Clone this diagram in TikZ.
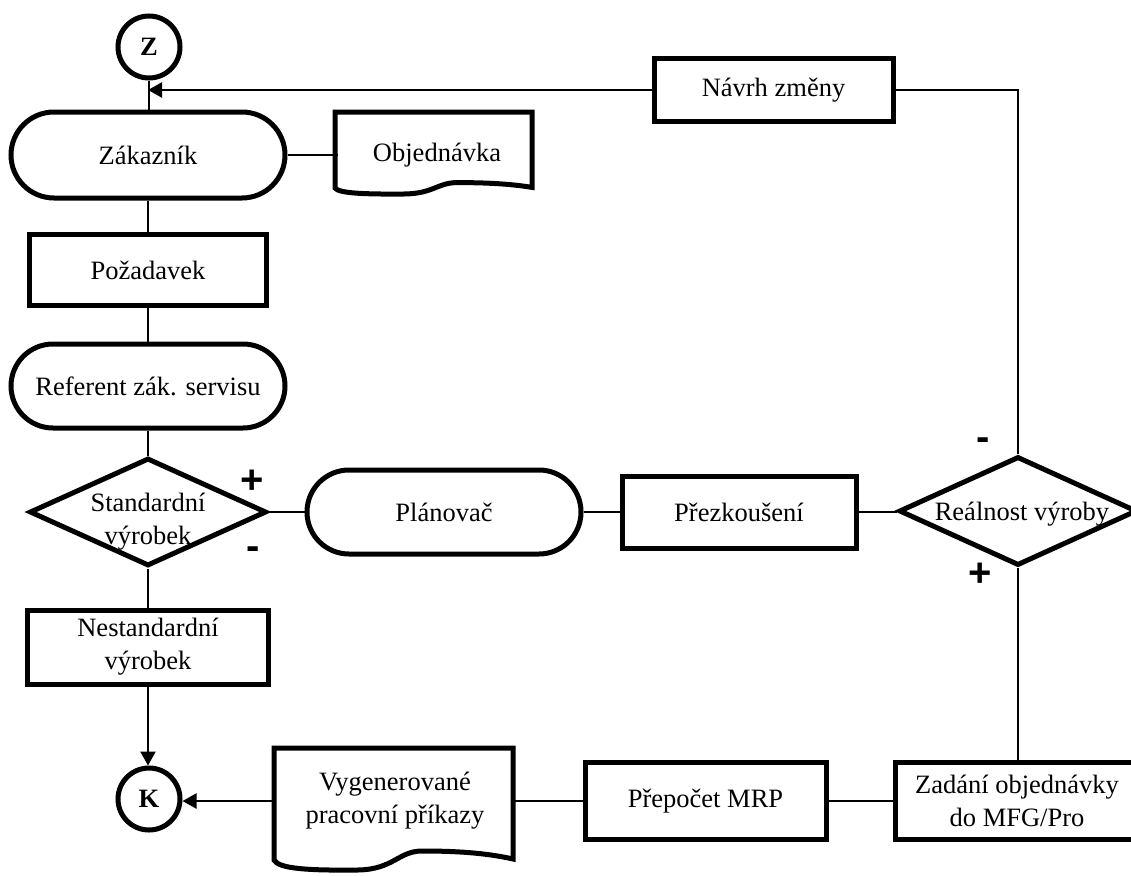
\documentclass[tikz,border=0pt]{standalone}
\usepackage{fontspec}
\setmainfont{Liberation Serif}
\newfontfamily\signfont{Liberation Sans}
\usetikzlibrary{shapes.misc,shapes.geometric,arrows.meta}
\newcommand\txtfont{\fontsize{26.5}{33}\selectfont}
\newcommand\docshape[5]{%
  \draw[boxline, fill=white] (#1,#4) -- (#1,#2) -- (#3,#2) -- (#3,{#4-0.1*#5})
    .. controls ({#3-0.12*(#3-#1)},{#4-0.75*#5}) and ({#1+0.75*(#3-#1)},{#4-0.9*#5}) .. ({#1+0.62*(#3-#1)},{#4-0.9*#5})
    .. controls ({#1+0.52*(#3-#1)},{#4-0.9*#5}) and ({#1+0.50*(#3-#1)},{#4+0.95*#5}) .. ({#1+0.35*(#3-#1)},{#4+#5})
    .. controls ({#1+0.15*(#3-#1)},{#4+1.05*#5}) and ({#1+0.02*(#3-#1)},{#4+0.9*#5}) .. (#1,#4) -- cycle;}
\tikzset{
  boxline/.style={line width=5pt, draw=black},
  proc/.style={rectangle, boxline, fill=white, inner sep=0pt, align=center, font=\txtfont},
  term/.style={rounded rectangle, boxline, fill=white, inner sep=0pt, align=center, font=\txtfont},
  decis/.style={diamond, boxline, fill=white, inner sep=0pt, aspect=2.15},
  conn/.style={circle, boxline, fill=white, inner sep=0pt, minimum size=62pt, font=\txtfont\bfseries},
  link/.style={line width=2.3pt},
  arr/.style={link, -{Triangle[length=14pt,width=15pt]}},
  doctxt/.style={inner sep=0pt, align=center, font=\txtfont},
  sign/.style={font=\signfont\bfseries\fontsize{40}{40}\selectfont, inner sep=0pt},
}
\begin{document}
\begin{tikzpicture}[x=1pt,y=-1pt]
\useasboundingbox[fill=white] (0,0) rectangle (1131,875);
\clip (0,0) rectangle (1131,875);

% document shapes
\docshape{335}{112}{532}{188}{6}
\docshape{274}{748}{513}{860}{10}

% nodes
\node[conn] (z) at (149,47) {Z};
\node[term, minimum width=274pt, minimum height=86pt] (zak) at (148,155) {Zákazník};
\node[doctxt, minimum width=197pt] (obj) at (437,155) {Objednávka};
\node[proc, minimum width=237pt, minimum height=71pt] (poz) at (148,270) {Požadavek};
\node[term, minimum width=274pt, minimum height=84pt] (ref) at (148,386) {Referent zák. servisu};
\node[decis, minimum width=237pt, minimum height=108pt] (std) at (148,512) {};
\node[doctxt] (stdt) at (148,522) {Standardní\\výrobek};
\node[term, minimum width=274pt, minimum height=84pt] (plan) at (444,512) {Plánovač};
\node[proc, minimum width=234pt, minimum height=72pt] (prez) at (739,512) {Přezkoušení};
\node[decis, minimum width=238pt, minimum height=109pt] (real) at (1018,511) {};
\node[doctxt] (realt) at (1022,514) {Reálnost výroby};
\node[proc, minimum width=239pt, minimum height=63pt] (navrh) at (773.5,90) {Návrh změny};
\node[proc, minimum width=241pt, minimum height=74pt] (nes) at (148,647) {Nestandardní\\výrobek};
\node[conn] (k) at (149,799) {K};
\node[doctxt, minimum width=239pt] (vyg) at (395,801) {Vygenerované\\pracovní příkazy};
\node[proc, minimum width=241pt, minimum height=77pt] (prep) at (705.5,801) {Přepočet MRP};
\node[proc, minimum width=244pt, minimum height=77pt] (zad) at (1017,801) {Zadání objednávky\\do MFG/Pro};

% signs
\node[sign] (p1) at (252,482) {+};
\node[sign] (m1) at (253,553) {-};
\node[sign] (m2) at (983,444) {-};
\node[sign] (p2) at (980,575) {+};

% connectors
\draw[link] (z.south) -- (z.south |- zak.north);
\draw[arr] (navrh.west) -- (navrh.west -| zak.north);
\draw[link] (real.north) |- (navrh.east);
\draw[link] (zak.east) -- (obj.west);
\draw[link] (zak.south) -- (poz.north);
\draw[link] (poz.south) -- (ref.north);
\draw[link] (ref.south) -- (std.north);
\draw[link] (std.east) -- (plan.west);
\draw[link] (plan.east) -- (prez.west);
\draw[link] (prez.east) -- (prez.east -| real.west);
\draw[link] (std.south) -- (nes.north);
\draw[arr] (nes.south) -- (nes.south |- k.north);
\draw[link] (real.south) -- (real.south |- zad.north);
\draw[link] (zad.west) -- (prep.east);
\draw[link] (prep.west) -- (vyg.east);
\draw[arr] (vyg.west) -- (vyg.west -| k.east);
\end{tikzpicture}
\end{document}
